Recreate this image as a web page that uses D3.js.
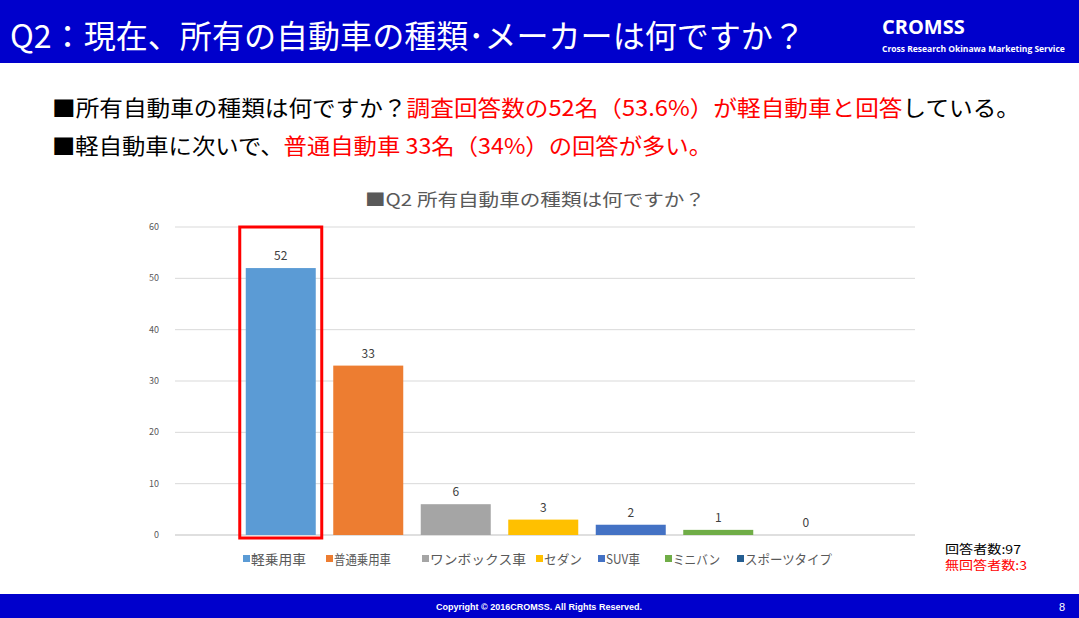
<!DOCTYPE html><html><head><meta charset="utf-8"><script src="https://cdn.jsdelivr.net/npm/d3@7"></script>
<style>body{margin:0}svg{font-family:"Noto Sans CJK JP",sans-serif}</style></head><body><svg width="1079" height="618"></svg>
<script>
const categories=["軽乗用車","普通乗用車","ワンボックス車","セダン","SUV車","ミニバン","スポーツタイプ"];
const values=[52,33,6,3,2,1,0];
const colors=["#5B9BD5","#ED7D31","#A5A5A5","#FFC000","#4472C4","#70AD47","#255E91"];
const yTicks=[0,10,20,30,40,50,60];
const svg=d3.select("svg");
svg.append("rect").attr("width",1079).attr("height",618).attr("fill","#fff");
svg.append("rect").attr("width",1079).attr("height",63).attr("fill","#0000CC");
svg.append("text").attr("x",10).attr("y",48).attr("fill","#fff").attr("font-size",32).attr("textLength",795).attr("lengthAdjust","spacingAndGlyphs").text("Q2：現在、所有の自動車の種類･メーカーは何ですか？");
svg.append("text").attr("x",882).attr("y",34).attr("fill","#fff").attr("font-size",20).attr("font-weight","bold").attr("font-family","Open Sans").text("CROMSS");
svg.append("text").attr("x",882).attr("y",52).attr("fill","#fff").attr("font-size",8.5).attr("font-weight","bold").attr("font-family","Open Sans").text("Cross Research Okinawa Marketing Service");
const l1=svg.append("text").attr("x",52).attr("y",116).attr("font-size",22).attr("textLength",968).attr("lengthAdjust","spacingAndGlyphs");
l1.append("tspan").text("■所有自動車の種類は何ですか？");
l1.append("tspan").attr("fill","#FF0000").text("調査回答数の52名（53.6%）が軽自動車と回答");
l1.append("tspan").text("している。");
const l2=svg.append("text").attr("x",52).attr("y",154).attr("font-size",22).attr("textLength",660).attr("lengthAdjust","spacingAndGlyphs");
l2.append("tspan").text("■軽自動車に次いで、");
l2.append("tspan").attr("fill","#FF0000").text("普通自動車 33名（34%）の回答が多い。");
svg.append("text").attr("x",365).attr("y",206).attr("font-size",17).attr("fill","#595959").attr("textLength",340).attr("lengthAdjust","spacingAndGlyphs").text("■Q2  所有自動車の種類は何ですか？");
const y=d3.scaleLinear().domain([0,60]).range([535,227]);
const x=d3.scaleBand().domain(categories).range([237,849.5]).paddingInner(0.2).paddingOuter(0.1);
svg.append("g").selectAll("line").data(yTicks).join("line").attr("x1",175).attr("x2",915).attr("y1",d=>y(d)).attr("y2",d=>y(d)).attr("stroke",d=>d?"#D9D9D9":"#BFBFBF");
svg.append("g").selectAll("text").data(yTicks).join("text").attr("x",159).attr("y",d=>y(d)+3).attr("text-anchor","end").attr("font-size",9).attr("fill","#595959").text(d=>d);
svg.append("g").selectAll("rect").data(values).join("rect").attr("x",(d,i)=>x(categories[i])).attr("width",x.bandwidth()).attr("y",d=>y(d)).attr("height",d=>y(0)-y(d)).attr("fill",(d,i)=>colors[i]);
svg.append("g").selectAll("text").data(values).join("text").attr("x",(d,i)=>x(categories[i])+x.bandwidth()/2).attr("y",d=>y(d)-8).attr("text-anchor","middle").attr("font-size",12).attr("fill","#404040").text(d=>d);
svg.append("rect").attr("x",x(categories[0])-6).attr("width",x.bandwidth()+12).attr("y",y(60)).attr("height",y(0)-y(60)+3).attr("fill","none").attr("stroke","#FF0000").attr("stroke-width",3);
const lx=[243,326,422,536,598,665,737];
const lw=[55,57,96,38,34,47,87];
const lg=svg.append("g").selectAll("g").data(categories).join("g").attr("transform",(d,i)=>`translate(${lx[i]},564)`);
lg.append("rect").attr("y",-9).attr("width",7).attr("height",7).attr("fill",(d,i)=>colors[i]);
lg.append("text").attr("x",8).attr("font-size",13).attr("fill","#595959").attr("textLength",(d,i)=>lw[i]).attr("lengthAdjust","spacingAndGlyphs").text(d=>d);
svg.append("text").attr("x",945).attr("y",554).attr("font-size",12).attr("fill","#000").attr("textLength",76).attr("lengthAdjust","spacingAndGlyphs").text("回答者数:97");
svg.append("text").attr("x",945).attr("y",570).attr("font-size",12).attr("fill","#FF0000").attr("textLength",82).attr("lengthAdjust","spacingAndGlyphs").text("無回答者数:3");
svg.append("rect").attr("y",594).attr("width",1079).attr("height",24).attr("fill","#0000CC");
svg.append("text").attr("x",539).attr("y",610).attr("text-anchor","middle").attr("fill","#fff").attr("font-size",9).attr("font-weight","bold").attr("font-family","Liberation Sans").text("Copyright © 2016CROMSS. All Rights Reserved.");
svg.append("text").attr("x",1062).attr("y",611).attr("text-anchor","middle").attr("fill","#fff").attr("font-size",11).attr("font-family","Liberation Sans").text("8");
</script></body></html>
